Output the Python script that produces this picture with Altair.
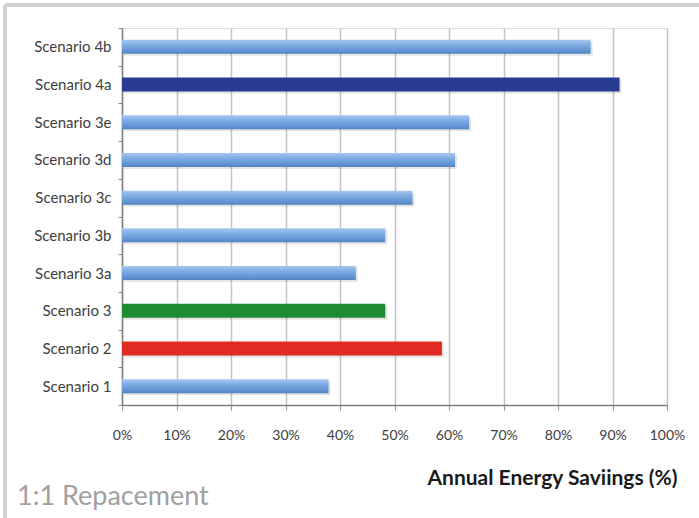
import altair as alt
import pandas as pd

# Annual energy savings per lighting scenario (1:1 replacement)
scenarios = ["Scenario 4b", "Scenario 4a", "Scenario 3e", "Scenario 3d", "Scenario 3c",
             "Scenario 3b", "Scenario 3a", "Scenario 3", "Scenario 2", "Scenario 1"]
savings = [86.0, 91.3, 63.7, 61.1, 53.3, 48.3, 42.9, 48.3, 58.7, 37.9]
bar_style = ["light", "navy", "light", "light", "light",
             "light", "light", "green", "red", "light"]
x_ticks = [0, 10, 20, 30, 40, 50, 60, 70, 80, 90, 100]
caption = ["1:1 Repacement"]

df = pd.DataFrame({"scenario": scenarios, "savings": savings, "style": bar_style})

FONT = "Lato"
BAR = 14

y_enc = alt.Y("scenario:N", sort=scenarios,
              scale=alt.Scale(paddingInner=0, paddingOuter=0),
              axis=alt.Axis(title=None, labelFont=FONT, labelFontSize=15, labelColor="#404040",
                            labelPadding=7, tickBand="extent", tickSize=4, tickColor="#8c8c8c",
                            domainColor="#7f7f7f", domainWidth=1.5, grid=False))
x_enc = alt.X("savings:Q",
              scale=alt.Scale(domain=[0, 100], nice=False),
              axis=alt.Axis(values=x_ticks, labelExpr="datum.value + '%'", labelFlush=False,
                            title="Annual Energy Saviings (%)", titleAnchor="end",
                            titleFont=FONT, titleFontSize=21, titleFontWeight="bold",
                            titleColor="#1a1a1a", titlePadding=25, titleX=555,
                            labelFont=FONT, labelFontSize=14, labelColor="#404040",
                            labelPadding=18, tickSize=5, tickColor="#8c8c8c",
                            domainColor="#7f7f7f", domainWidth=1.5,
                            grid=True, gridColor="#c4c4c4", gridWidth=1.5))

gloss = alt.Gradient(
    gradient="linear", x1=0, y1=0, x2=0, y2=1,
    stops=[alt.GradientStop(offset=0, color="#a6c7ee"),
           alt.GradientStop(offset=0.35, color="#80aee3"),
           alt.GradientStop(offset=0.75, color="#6596d5"),
           alt.GradientStop(offset=1, color="#5284c4")])

shadow = alt.Chart(df).mark_bar(size=BAR, color="#000000", opacity=0.10, yOffset=2, xOffset=2).encode(
    y=y_enc, x=x_enc)

light = alt.Chart(df).transform_filter(alt.datum.style == "light").mark_bar(
    size=BAR, color=gloss).encode(y=y_enc, x=x_enc)

solid = alt.Chart(df).transform_filter(alt.datum.style != "light").mark_bar(size=BAR).encode(
    y=y_enc, x=x_enc,
    color=alt.Color("style:N", legend=None,
                    scale=alt.Scale(domain=["navy", "green", "red"],
                                    range=["#293b93", "#1f8a34", "#e12b22"])))

# outer chart-area frame (top and left edges)
frame_top = alt.Chart(df).mark_rule(color="#d2d2d2", strokeWidth=3).encode(
    x=alt.value(-117), x2=alt.value(600), y=alt.value(-23))
frame_left = alt.Chart(df).mark_rule(color="#d2d2d2", strokeWidth=3).encode(
    x=alt.value(-117), y=alt.value(-23), y2=alt.value(520))

# caption in the lower-left corner of the chart area
label = alt.Chart(pd.DataFrame({"text": caption})).mark_text(
    font=FONT, fontSize=27, color="#a0a0a0", align="left", baseline="middle").encode(
    text="text:N", x=alt.value(-105), y=alt.value(469))

chart = alt.layer(frame_top, frame_left, shadow, light, solid, label).properties(
    width=545, height=377,
    padding={"left": 122, "top": 28, "right": 32, "bottom": 113},
    autosize=alt.AutoSizeParams(type="none"),
).configure_view(stroke="#7f7f7f", strokeWidth=1.5).configure(background="white")

chart.save("out.html", embed_options={"renderer": "svg", "actions": False})
